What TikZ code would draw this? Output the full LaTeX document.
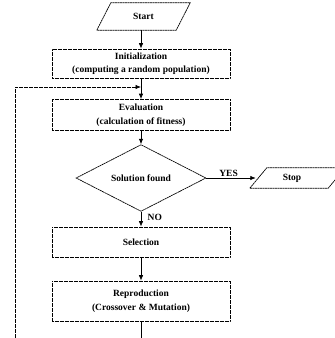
\documentclass[tikz,border=0pt]{standalone}
\usepackage{fontspec}
\setmainfont{Liberation Serif}
\usetikzlibrary{shapes.geometric,arrows.meta,calc}
\begin{document}
\begin{tikzpicture}[x=1pt,y=-1pt,
  txt/.style={font=\fontsize{9.5}{13.5}\selectfont\bfseries, align=center},
  outline/.style={draw, dash pattern=on 2pt off 0.5pt, line width=0.7pt},
  box/.style={outline, txt, minimum width=178pt, inner sep=0pt},
  arr/.style={-{Latex[length=5.5pt,width=4.5pt]}, line width=0.8pt},
  loopline/.style={dash pattern=on 2pt off 0.5pt, line width=0.7pt}]
\useasboundingbox (0,0) rectangle (335,338);
\fill[white] (0,0) rectangle (335,338);
% nodes
\node[txt, minimum width=65pt, minimum height=27pt, inner sep=0pt] (start) at (143.5,16.5) {Start};
\draw[outline] ($(start.south west)+(-14,0)$) -- (start.north west) -- ($(start.north east)+(14,0)$) -- (start.south east) -- cycle;
\node[box, minimum height=29pt] (init) at (141,63.5) {Initialization\\(computing a random population)};
\node[box, minimum height=31pt] (eval) at (141,115) {Evaluation\\(calculation of fitness)};
\node[diamond, outline, txt, minimum width=130pt, minimum height=55pt, inner sep=0pt] (dec) at (141,178) {Solution found};
\node[txt, minimum width=72pt, minimum height=20pt, inner sep=0pt] (stop) at (292,178) {Stop};
\draw[outline] ($(stop.south west)+(-6,0)$) -- ($(stop.north west)+(11,0)$) -- ($(stop.north east)+(17,0)$) -- (stop.south east) -- cycle;
\node[box, minimum height=30pt] (sel) at (141,242) {Selection};
\node[box, minimum height=40pt] (rep) at (141,301) {Reproduction\\(Crossover \& Mutation)};
\coordinate (jn) at (141,87);
\coordinate (bl) at (15,338);
\coordinate (rb) at (141,338);
% connectors
\draw[arr] (start.south -| init.north) -- (init.north);
\draw[arr] (init) -- (eval);
\draw[arr] (eval) -- (dec);
\draw[arr] (dec) -- node[txt, above, pos=0.45, inner sep=1.5pt]{YES} (stop);
\draw[arr] (dec) -- node[txt, right, pos=0.35, xshift=3pt]{NO} (sel);
\draw[arr] (sel) -- (rep);
\draw[line width=0.7pt] (rep.south) -- (rb);
\draw[loopline, -{Latex[length=5.5pt,width=4.5pt]}] (bl) |- (jn);
\end{tikzpicture}
\end{document}
